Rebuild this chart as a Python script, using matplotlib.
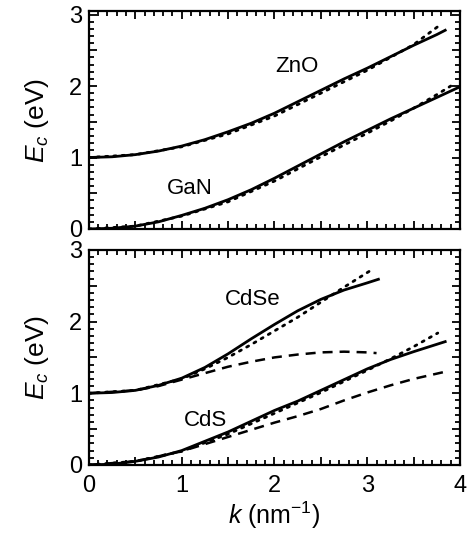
#!/usr/bin/env python3

import matplotlib
matplotlib.use('Agg')
from matplotlib import pyplot as plt
from matplotlib.ticker import MultipleLocator, FuncFormatter

plt.rcParams['font.family'] = ['Liberation Sans', 'DejaVu Sans']
plt.rcParams['mathtext.fontset'] = 'custom'
plt.rcParams['mathtext.rm'] = 'Liberation Sans'
plt.rcParams['mathtext.it'] = 'Liberation Sans:italic'

# Conduction band dispersion (k in nm^-1, E in eV).
k_gan = [0, 0.25, 0.5, 0.75, 1.0, 1.25, 1.5, 1.75, 2.0, 2.25, 2.5, 2.75,
         3.0, 3.25, 3.5, 3.75, 4.0]
e_gan = [0, 0.01, 0.04, 0.10, 0.19, 0.29, 0.41, 0.55, 0.71, 0.88, 1.05,
         1.22, 1.38, 1.54, 1.69, 1.84, 1.99]
k_gan_dot = [0, 0.5, 1.0, 1.5, 2.0, 2.5, 3.0, 3.25, 3.5, 3.75, 3.9]
e_gan_dot = [0, 0.04, 0.18, 0.38, 0.67, 1.01, 1.34, 1.51, 1.69, 1.88, 2.00]

k_zno = [0, 0.25, 0.5, 0.75, 1.0, 1.25, 1.5, 1.75, 2.0, 2.25, 2.5, 2.75,
         3.0, 3.25, 3.5, 3.75, 3.84]
e_zno = [1.0, 1.01, 1.04, 1.09, 1.16, 1.25, 1.36, 1.48, 1.62, 1.78, 1.94,
         2.10, 2.25, 2.41, 2.57, 2.72, 2.78]
k_zno_dot = [0, 0.5, 1.0, 1.5, 2.0, 2.5, 3.0, 3.25, 3.5, 3.78]
e_zno_dot = [1.0, 1.04, 1.15, 1.33, 1.58, 1.90, 2.22, 2.40, 2.58, 2.85]

k_cdse = [0, 0.25, 0.5, 0.75, 1.0, 1.25, 1.5, 1.75, 2.0, 2.25, 2.5, 2.75,
          3.0, 3.12]
e_cdse = [1.0, 1.01, 1.04, 1.11, 1.21, 1.36, 1.55, 1.76, 1.96, 2.15, 2.31,
          2.44, 2.54, 2.59]
k_cdse_dot = [0, 0.5, 1.0, 1.25, 1.5, 1.75, 2.0, 2.25, 2.5, 2.75, 3.02]
e_cdse_dot = [1.0, 1.04, 1.20, 1.34, 1.50, 1.68, 1.87, 2.06, 2.27, 2.48, 2.70]
k_cdse_dash = [0, 0.5, 0.75, 1.0, 1.25, 1.5, 1.75, 2.0, 2.25, 2.5, 2.75,
               3.0, 3.1]
e_cdse_dash = [1.0, 1.04, 1.10, 1.19, 1.28, 1.37, 1.44, 1.50, 1.54, 1.57,
               1.58, 1.57, 1.56]

k_cds = [0, 0.25, 0.5, 0.75, 1.0, 1.25, 1.5, 1.75, 2.0, 2.25, 2.5, 2.75,
         3.0, 3.25, 3.5, 3.84]
e_cds = [0, 0.01, 0.05, 0.11, 0.20, 0.33, 0.46, 0.61, 0.76, 0.89, 1.04,
         1.19, 1.34, 1.47, 1.58, 1.72]
k_cds_dot = [0, 0.5, 1.0, 1.5, 2.0, 2.5, 3.0, 3.25, 3.5, 3.76]
e_cds_dot = [0, 0.05, 0.19, 0.43, 0.72, 1.01, 1.32, 1.48, 1.65, 1.84]
k_cds_dash = [0, 0.5, 1.0, 1.25, 1.5, 1.75, 2.0, 2.25, 2.5, 2.75, 3.0,
              3.25, 3.5, 3.84]
e_cds_dash = [0, 0.05, 0.19, 0.29, 0.39, 0.49, 0.59, 0.68, 0.78, 0.90,
              1.01, 1.11, 1.20, 1.30]

SOLID = dict(color='black', lw=2.0, ls='-')
DOT = dict(color='black', lw=2.0, ls=(0, (0.8, 2.2)), dash_capstyle='round')
DASH = dict(color='black', lw=1.8, ls=(0, (4, 2.8)))


def int_label(v, pos):
    if abs(v - round(v)) < 1e-6:
        return '%d' % round(v)
    return ''


def style_axes(ax, ytop):
    ax.set_xlim(0, 4)
    ax.set_ylim(0, ytop)
    for loc in (ax.xaxis, ax.yaxis):
        loc.set_major_locator(MultipleLocator(0.5))
        loc.set_minor_locator(MultipleLocator(0.1))
        loc.set_major_formatter(FuncFormatter(int_label))
    ax.tick_params(which='both', direction='in', top=True, right=True,
                   labelsize=17, width=1.3)
    ax.tick_params(which='major', length=6)
    ax.tick_params(which='minor', length=3.5)
    ax.tick_params(axis='y', pad=5)
    ax.tick_params(axis='x', pad=7)
    for sp in ax.spines.values():
        sp.set_linewidth(1.6)
    ax.set_ylabel('$E_c$ (eV)', fontsize=19, labelpad=13)


fig = plt.figure(figsize=(4.68, 5.35), dpi=100)
ax1 = fig.add_axes([0.190, 0.572, 0.793, 0.4075])
ax2 = fig.add_axes([0.190, 0.131, 0.793, 0.4019])

style_axes(ax1, 3.05)
style_axes(ax2, 3.0)
ax1.tick_params(labelbottom=False)

ax1.plot(k_gan, e_gan, **SOLID)
ax1.plot(k_gan_dot, e_gan_dot, **DOT)
ax1.plot(k_zno, e_zno, **SOLID)
ax1.plot(k_zno_dot, e_zno_dot, **DOT)
ax1.text(2.24, 2.27, 'ZnO', fontsize=16, ha='center', va='center')
ax1.text(1.09, 0.57, 'GaN', fontsize=16, ha='center', va='center')

ax2.plot(k_cdse, e_cdse, **SOLID)
ax2.plot(k_cdse_dot, e_cdse_dot, **DOT)
ax2.plot(k_cdse_dash, e_cdse_dash, **DASH)
ax2.plot(k_cds, e_cds, **SOLID)
ax2.plot(k_cds_dot, e_cds_dot, **DOT)
ax2.plot(k_cds_dash, e_cds_dash, **DASH)
ax2.text(1.77, 2.31, 'CdSe', fontsize=16, ha='center', va='center')
ax2.text(1.26, 0.62, 'CdS', fontsize=16, ha='center', va='center')
ax2.set_xlabel('$k$ (nm$^{-1}$)', fontsize=18, labelpad=2)

fig.savefig('out.png', dpi=100)
